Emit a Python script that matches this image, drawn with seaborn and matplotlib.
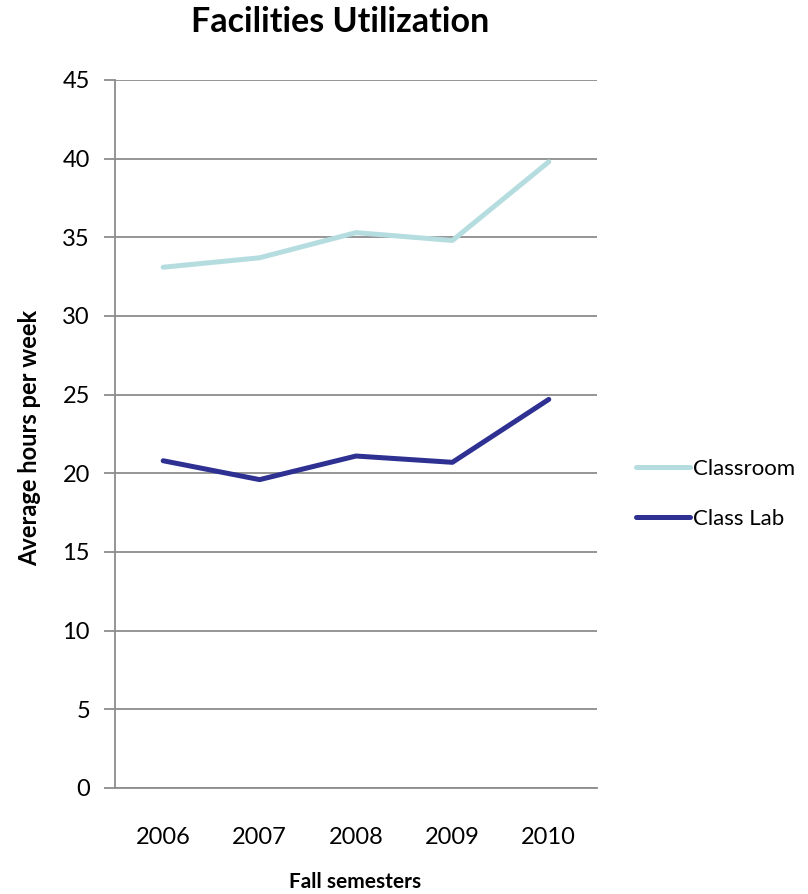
import matplotlib
matplotlib.use("Agg")
import matplotlib.pyplot as plt
import seaborn as sns
import pandas as pd

years = ["2006", "2007", "2008", "2009", "2010"]
classroom = [33.1, 33.7, 35.3, 34.8, 39.8]
class_lab = [20.8, 19.6, 21.1, 20.7, 24.7]
series_names = ["Classroom", "Class Lab"]
colors = ["#B5DDE0", "#2E3192"]

df = pd.DataFrame({
    "Year": years * 2,
    "Hours": classroom + class_lab,
    "Series": [series_names[0]] * len(years) + [series_names[1]] * len(years),
})

sns.set_theme(style="white")
plt.rcParams["font.family"] = ["Lato", "DejaVu Sans"]
plt.rcParams["text.color"] = "black"

fig = plt.figure(figsize=(8.08, 8.94), dpi=100)
ax = fig.add_axes([115/808, 1 - 788/894, (597-115)/808, (788-80)/894])

sns.lineplot(data=df, x="Year", y="Hours", hue="Series", palette=colors,
             linewidth=3.6, ax=ax, sort=False, legend=True)

ax.set_ylim(0, 45)
ax.set_yticks(range(0, 46, 5))
ax.set_xlim(-0.5, 4.5)
ax.yaxis.grid(True, color="#8C8C8C", linewidth=1.3)
ax.xaxis.grid(False)
for s in ["top", "right"]:
    ax.spines[s].set_visible(False)
for s in ["left", "bottom"]:
    ax.spines[s].set_color("#8C8C8C")
    ax.spines[s].set_linewidth(1.3)
ax.tick_params(axis="y", which="major", left=True, length=8, width=1.3, color="#8C8C8C",
               labelsize=17, pad=10, labelcolor="black")
ax.tick_params(axis="x", bottom=False, labelsize=17, pad=22, labelcolor="black")

ax.set_xlabel("")
ax.set_ylabel("")
fig.text(355/808, 1 - 882/894, "Fall semesters", fontsize=15, fontweight="bold",
         ha="center", va="center", color="black")
fig.text(30/808, 1 - 438/894, "Average hours per week", fontsize=17, fontweight="bold",
         ha="center", va="center", rotation=90, color="black")
fig.text(340/808, 1 - 22/894, "Facilities Utilization", fontsize=24.5, fontweight="bold",
         ha="center", va="center", color="black")

handles, labels = ax.get_legend_handles_labels()
leg = ax.legend(handles, labels, loc="center left", bbox_to_anchor=(1.04, 0.415),
                frameon=False, fontsize=16, handlelength=2.4, handletextpad=0.15,
                labelspacing=1.35)
for t in leg.get_texts():
    t.set_color("black")

fig.savefig("out.png", dpi=100)
